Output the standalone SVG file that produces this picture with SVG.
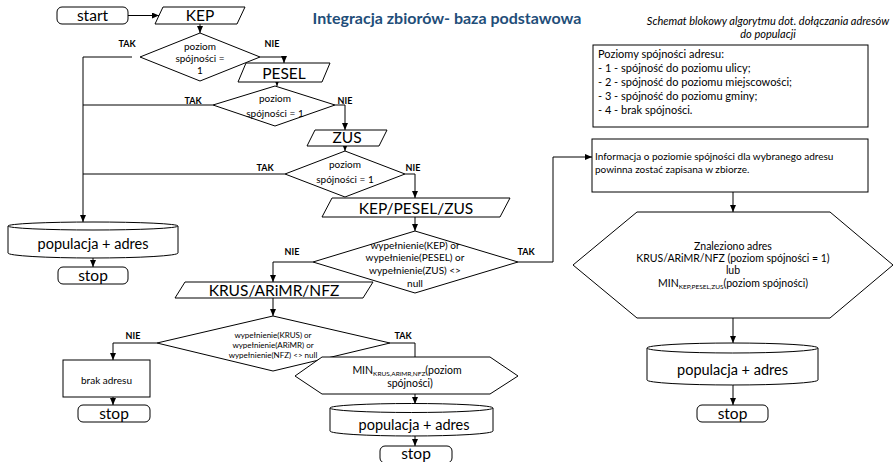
<svg xmlns="http://www.w3.org/2000/svg" width="896" height="462" viewBox="0 0 896 462">
<defs>
<marker id="ah" markerWidth="7" markerHeight="6" refX="7" refY="3" orient="auto" markerUnits="userSpaceOnUse"><path d="M0,0 L7,3 L0,6 Z" fill="#000"/></marker>
</defs>
<style>
text{font-family:Lato,"Liberation Sans",sans-serif;fill:#000}
.sh{fill:#fff;stroke:#000;stroke-width:1}
.c{fill:none;stroke:#000;stroke-width:1}
.a{marker-end:url(#ah)}
.m{text-anchor:middle}
.big{font-size:15.5px}
.cy{font-size:14.5px}
.d{font-size:10px}
.s8{font-size:8px}
.lb{font-size:9px;font-weight:bold}
.sub{font-size:6.5px}
</style>
<rect width="896" height="462" fill="#fff"/>

<text x="447" y="24" class="m" style="font-size:16px;font-weight:bold;fill:#1f4e79">Integracja zbiorów- baza podstawowa</text>
<text x="768" y="25" class="m" style="font-size:11px;font-style:italic">Schemat blokowy algorytmu dot. dołączania adresów</text>
<text x="768" y="38" class="m" style="font-size:11px;font-style:italic">do populacji</text>

<g id="connectors">
<path class="c a" d="M128,15.5 L159,15.5"/>
<path class="c a" d="M200,24 L200,33"/>
<path class="c a" d="M132,57 L83,57 L83,222"/>
<path class="c a" d="M260,57 L284,57 L284,63"/>
<path class="c a" d="M277,82 L277,86"/>
<path class="c" d="M213,105 L83,105"/>
<path class="c a" d="M335,105 L345,105 L345,130"/>
<path class="c a" d="M345,146 L345,151"/>
<path class="c" d="M285,174 L83,174"/>
<path class="c a" d="M405,174 L415,174 L415,198"/>
<path class="c a" d="M415,217 L415,231"/>
<path class="c a" d="M313,262 L273,262 L273,282"/>
<path class="c a" d="M518,262 L553,262 L553,157 L592,157"/>
<path class="c a" d="M273,298 L273,316"/>
<path class="c a" d="M157,343 L113,343 L113,360"/>
<path class="c" d="M390,343 L415,343 L415,357"/>
<path class="c a" d="M113,397 L113,405"/>
<path class="c a" d="M415,394 L415,404"/>
<path class="c a" d="M415,436 L415,446"/>
<path class="c a" d="M93,258 L93,267"/>
<path class="c a" d="M733,192 L733,212"/>
<path class="c a" d="M733,318 L733,343"/>
<path class="c a" d="M733,385 L733,405"/>
</g>

<g id="start">
<rect class="sh" x="57" y="7" width="71" height="17" rx="5"/>
<text x="92.5" y="21" class="m big">start</text>
</g>
<g id="kep">
<path class="sh" d="M163,7 L245,7 L237,24 L155,24 Z"/>
<text x="200" y="21" class="m big">KEP</text>
</g>
<g id="d1">
<path class="sh" d="M200,33 L260,57 L200,81 L140,57 Z"/>
<text x="200" y="50" class="m d">poziom</text>
<text x="200" y="62" class="m d">spójności =</text>
<text x="200" y="74" class="m d">1</text>
<text x="127" y="47" class="m lb">TAK</text>
<text x="272" y="47" class="m lb">NIE</text>
</g>
<g id="pesel">
<path class="sh" d="M246,63 L330,63 L322,82 L238,82 Z"/>
<text x="284" y="79" class="m big">PESEL</text>
</g>
<g id="d2">
<path class="sh" d="M275,86 L335,105 L275,126 L213,105 Z"/>
<text x="275" y="102" class="m d">poziom</text>
<text x="275" y="117" class="m d">spójności = 1</text>
<text x="193" y="104" class="m lb">TAK</text>
<text x="345" y="104" class="m lb">NIE</text>
</g>
<g id="zus">
<path class="sh" d="M315,130 L387,130 L379,146 L307,146 Z"/>
<text x="347" y="143" class="m big">ZUS</text>
</g>
<g id="d3">
<path class="sh" d="M345,151 L405,174 L345,197 L285,174 Z"/>
<text x="345" y="168" class="m d">poziom</text>
<text x="345" y="183" class="m d">spójności = 1</text>
<text x="265" y="171" class="m lb">TAK</text>
<text x="413" y="171" class="m lb">NIE</text>
</g>
<g id="kpz">
<path class="sh" d="M332,198 L510,198 L500,217 L322,217 Z"/>
<text x="416" y="214" class="m big">KEP/PESEL/ZUS</text>
</g>
<g id="d4">
<path class="sh" d="M415,231 L518,262 L415,293 L313,262 Z"/>
<text x="415" y="249" class="m d">wypełnienie(KEP) or</text>
<text x="415" y="261" class="m d">wypełnienie(PESEL) or</text>
<text x="415" y="274" class="m d">wypełnienie(ZUS) &lt;&gt;</text>
<text x="415" y="287" class="m d">null</text>
<text x="292" y="255" class="m lb">NIE</text>
<text x="526" y="255" class="m lb">TAK</text>
</g>
<g id="krus">
<path class="sh" d="M185,282 L373,282 L363,298 L175,298 Z"/>
<text x="274" y="296" class="m big">KRUS/ARiMR/NFZ</text>
</g>
<g id="d5">
<path class="sh" d="M273,316 L390,343 L273,371 L157,343 Z"/>
<text x="273" y="338" class="m s8">wypełnienie(KRUS) or</text>
<text x="273" y="348" class="m s8">wypełnienie(ARiMR) or</text>
<text x="273" y="358" class="m s8">wypełnienie(NFZ) &lt;&gt; null</text>
<text x="133" y="339" class="m lb">NIE</text>
<text x="403" y="339" class="m lb">TAK</text>
</g>
<g id="brak">
<rect class="sh" x="63" y="360" width="87" height="37"/>
<text x="106.5" y="384" class="m d">brak adresu</text>
</g>
<g id="stop2">
<rect class="sh" x="78" y="405" width="72" height="17" rx="5"/>
<text x="114" y="419" class="m big">stop</text>
</g>
<g id="hexmid">
<path class="sh" d="M295,376 L322,357 L490,357 L518,376 L490,394 L322,394 Z"/>
<text x="407" y="374" class="m" style="font-size:10.5px">MIN<tspan class="sub" dy="2">KRUS,ARiMR,NFZ</tspan><tspan dy="-2">(poziom</tspan></text>
<text x="410" y="387" class="m" style="font-size:10.5px">spójności)</text>
</g>
<g id="cylmid">
<path class="sh" d="M330,408 L330,431 A81.5,5 0 0 0 493,431 L493,408"/>
<ellipse class="sh" cx="411.5" cy="408" rx="81.5" ry="4.5"/>
<text x="414" y="430" class="m cy">populacja + adres</text>
</g>
<g id="stop3">
<rect class="sh" x="380" y="446" width="72" height="17" rx="5"/>
<text x="416" y="459" class="m big">stop</text>
</g>
<g id="cylleft">
<path class="sh" d="M8,226 L8,253 A85,5 0 0 0 178,253 L178,226"/>
<ellipse class="sh" cx="93" cy="226" rx="85" ry="4"/>
<text x="93" y="249" class="m cy">populacja + adres</text>
</g>
<g id="stop1">
<rect class="sh" x="58" y="267" width="70" height="17" rx="5"/>
<text x="93" y="281" class="m big">stop</text>
</g>
<g id="legend">
<rect class="sh" x="593" y="45" width="275" height="82"/>
<text x="598" y="58" style="font-size:11px">Poziomy spójności adresu:</text>
<text x="598" y="72" style="font-size:11px">- 1 - spójność do poziomu ulicy;</text>
<text x="598" y="86" style="font-size:11px">- 2 - spójność do poziomu miejscowości;</text>
<text x="598" y="100" style="font-size:11px">- 3 - spójność do poziomu gminy;</text>
<text x="598" y="114" style="font-size:11px">- 4 - brak spójności.</text>
</g>
<g id="info">
<rect class="sh" x="592" y="139" width="276" height="53"/>
<text x="595" y="160" style="font-size:10px">Informacja o poziomie spójności dla wybranego adresu</text>
<text x="595" y="173" style="font-size:10px">powinna zostać zapisana w zbiorze.</text>
</g>
<g id="hexright">
<path class="sh" d="M573,265 L637,212 L830,212 L893,265 L830,318 L637,318 Z"/>
<text x="733" y="250" class="m" style="font-size:10.5px">Znaleziono adres</text>
<text x="733" y="262" class="m" style="font-size:10.5px">KRUS/ARiMR/NFZ (poziom spójności = 1)</text>
<text x="733" y="274" class="m" style="font-size:10.5px">lub</text>
<text x="733" y="287" class="m" style="font-size:10.5px">MIN<tspan class="sub" dy="2">KEP,PESEL,ZUS</tspan><tspan dy="-2">(poziom spójności)</tspan></text>
</g>
<g id="cylright">
<path class="sh" d="M647,348 L647,380 A85.5,5 0 0 0 818,380 L818,348"/>
<ellipse class="sh" cx="732.5" cy="348" rx="85.5" ry="5"/>
<text x="732.5" y="375" class="m cy">populacja + adres</text>
</g>
<g id="stop4">
<rect class="sh" x="697" y="405" width="71" height="17" rx="5"/>
<text x="732.5" y="419" class="m big">stop</text>
</g>
</svg>
